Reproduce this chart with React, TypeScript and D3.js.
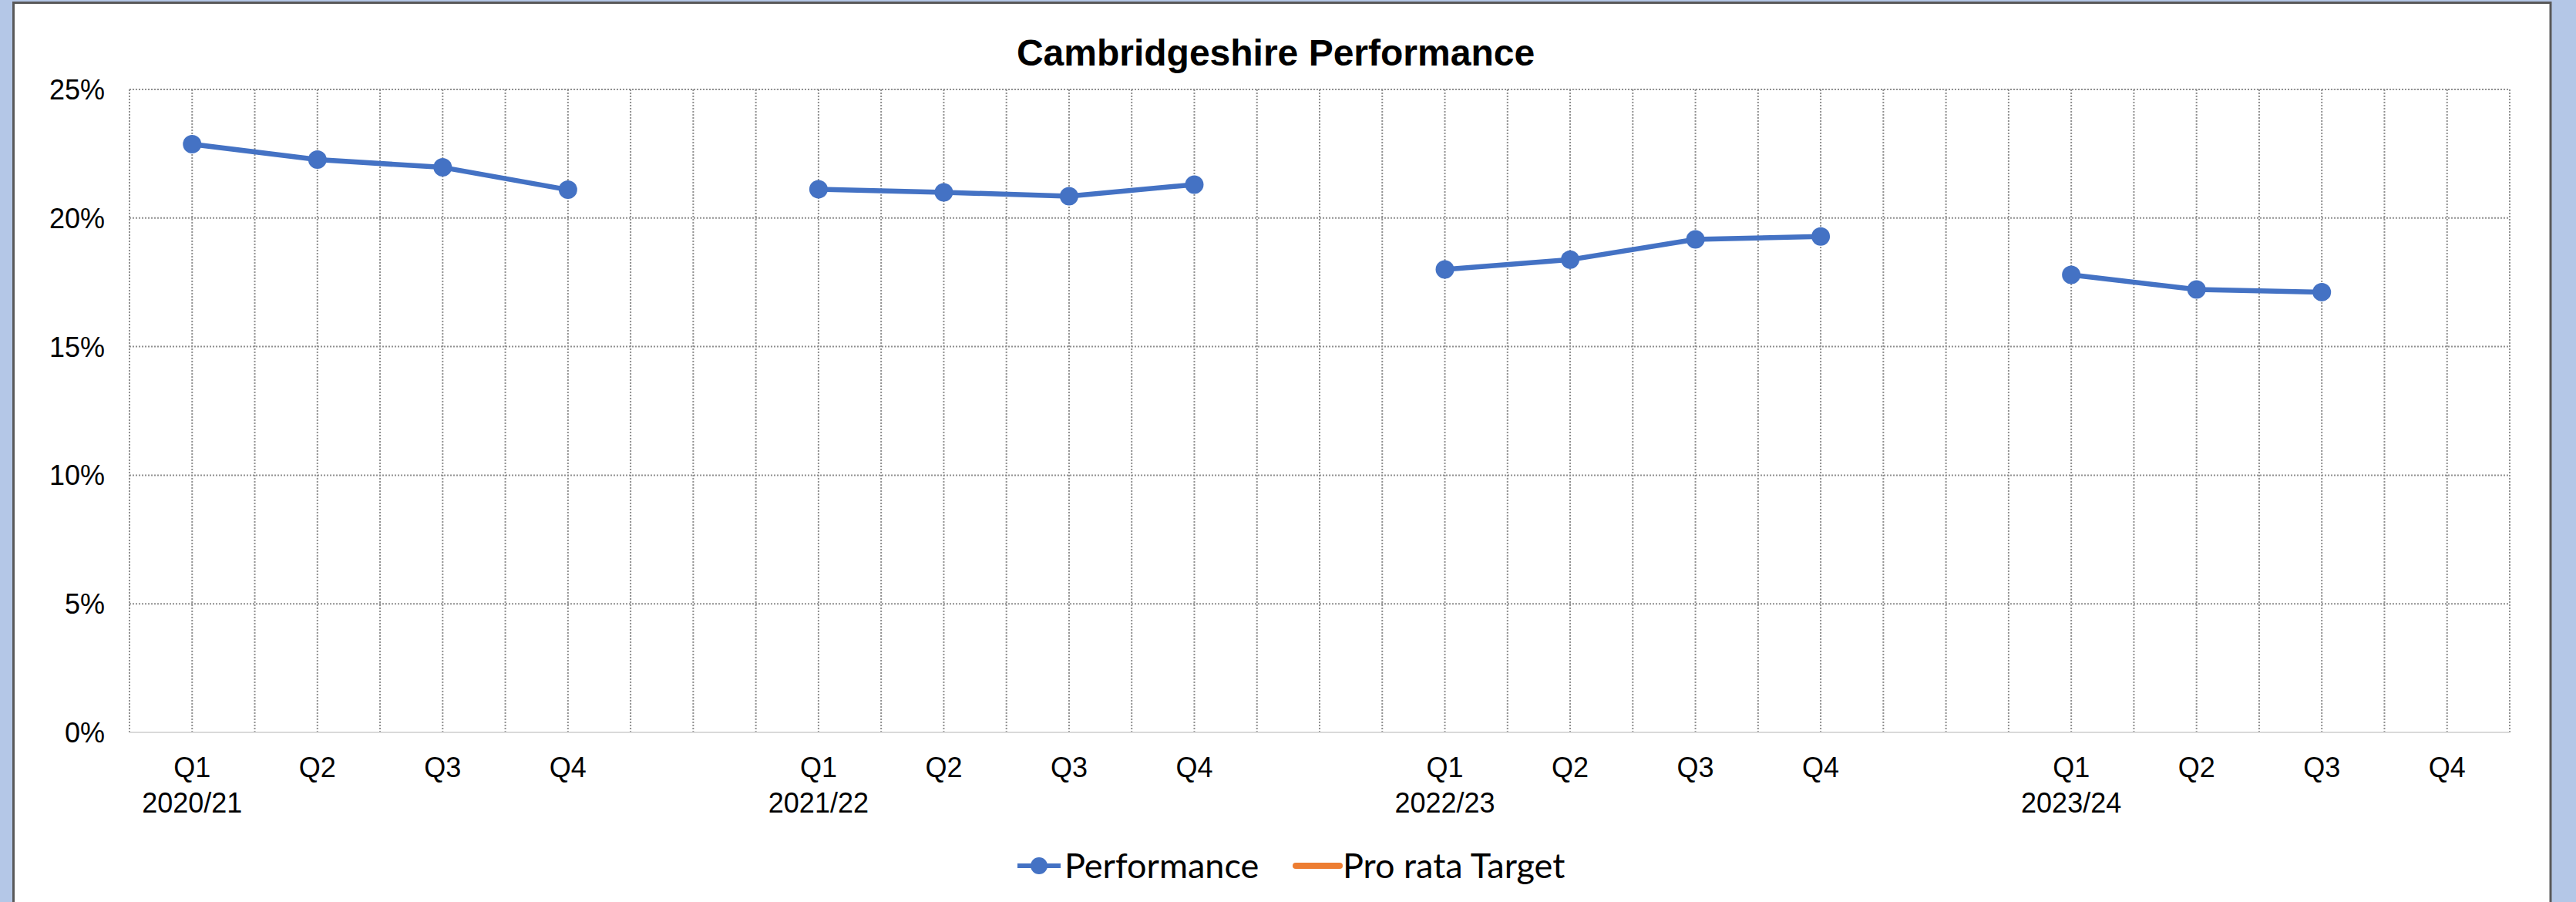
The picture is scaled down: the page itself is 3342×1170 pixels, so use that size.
import { useEffect, useRef } from "react";
import * as d3 from "d3";

const quarterLabels = [
  "Q1", "Q2", "Q3", "Q4", "",
  "Q1", "Q2", "Q3", "Q4", "",
  "Q1", "Q2", "Q3", "Q4", "",
  "Q1", "Q2", "Q3", "Q4",
];
const yearLabels = [
  "2020/21", "", "", "", "",
  "2021/22", "", "", "", "",
  "2022/23", "", "", "", "",
  "2023/24", "", "", "",
];
// percent values, null where there is no point
const performance: (number | null)[] = [
  22.87, 22.27, 21.97, 21.1, null,
  21.12, 21.0, 20.85, 21.3, null,
  18.0, 18.38, 19.17, 19.28, null,
  17.79, 17.22, 17.12, null,
];
const proRataTarget: (number | null)[] = quarterLabels.map(() => null);
const yTicks = [0, 5, 10, 15, 20, 25];

const WIDTH = 3342;
const HEIGHT = 1170;
const BLUE = "#4472C4";
const ORANGE = "#ED7D31";
const GRID = "#8f8f8f";

export default function App() {
  const svgRef = useRef<SVGSVGElement>(null);

  useEffect(() => {
    if (!svgRef.current) return;
    const svg = d3.select(svgRef.current);
    svg.selectAll("*").remove();

    const plot = { left: 168, right: 3256, top: 116, bottom: 950 };

    // page background + chart frame
    svg.append("rect").attr("width", WIDTH).attr("height", HEIGHT).attr("fill", "#b4c7e7");
    svg
      .append("rect")
      .attr("x", 17.5)
      .attr("y", 3.5)
      .attr("width", 3309 - 17.5)
      .attr("height", HEIGHT + 20)
      .attr("fill", "#ffffff")
      .attr("stroke", "#595959")
      .attr("stroke-width", 3);

    const x = d3
      .scaleBand<number>()
      .domain(d3.range(quarterLabels.length))
      .range([plot.left, plot.right])
      .padding(0);
    const bw = x.bandwidth();
    const cx = (i: number) => (x(i) || 0) + bw / 2;

    const y = d3.scaleLinear().domain([0, 25]).range([plot.bottom, plot.top]);

    const g = svg.append("g");

    // vertical gridlines: category edges and centres
    const vLines: number[] = [];
    quarterLabels.forEach((_d, i) => {
      vLines.push(x(i) || 0, cx(i));
    });
    vLines.push(plot.right);
    g.append("g")
      .selectAll("line")
      .data(vLines)
      .enter()
      .append("line")
      .attr("x1", (d) => d)
      .attr("x2", (d) => d)
      .attr("y1", plot.top)
      .attr("y2", plot.bottom)
      .attr("stroke", GRID)
      .attr("stroke-width", 2)
      .attr("stroke-dasharray", "2,2");

    // horizontal gridlines
    g.append("g")
      .selectAll("line")
      .data(yTicks.filter((t) => t > 0))
      .enter()
      .append("line")
      .attr("x1", plot.left)
      .attr("x2", plot.right)
      .attr("y1", (d) => y(d))
      .attr("y2", (d) => y(d))
      .attr("stroke", GRID)
      .attr("stroke-width", 2)
      .attr("stroke-dasharray", "2,2");

    // category axis line
    g.append("line")
      .attr("x1", plot.left)
      .attr("x2", plot.right)
      .attr("y1", y(0))
      .attr("y2", y(0))
      .attr("stroke", "#d9d9d9")
      .attr("stroke-width", 2);

    // y labels
    g.append("g")
      .selectAll("text")
      .data(yTicks)
      .enter()
      .append("text")
      .attr("x", 136)
      .attr("y", (d) => y(d))
      .attr("dy", "0.36em")
      .attr("text-anchor", "end")
      .style("font-family", "'Liberation Sans', Arial, sans-serif")
      .style("font-size", "36px")
      .style("fill", "#000")
      .text((d) => `${d}%`);

    // x labels
    const xl = g.append("g");
    quarterLabels.forEach((q, i) => {
      if (q)
        xl.append("text")
          .attr("x", cx(i))
          .attr("y", 1008)
          .attr("text-anchor", "middle")
          .style("font-family", "'Liberation Sans', Arial, sans-serif")
          .style("font-size", "36px")
          .text(q);
      if (yearLabels[i])
        xl.append("text")
          .attr("x", cx(i))
          .attr("y", 1054)
          .attr("text-anchor", "middle")
          .style("font-family", "'Liberation Sans', Arial, sans-serif")
          .style("font-size", "36px")
          .text(yearLabels[i]);
    });

    // series
    const line = d3
      .line<number | null>()
      .defined((d) => d != null)
      .x((_d, i) => cx(i))
      .y((d) => y(d as number));

    g.append("path")
      .datum(proRataTarget)
      .attr("d", line)
      .attr("fill", "none")
      .attr("stroke", ORANGE)
      .attr("stroke-width", 6);

    g.append("path")
      .datum(performance)
      .attr("d", line)
      .attr("fill", "none")
      .attr("stroke", BLUE)
      .attr("stroke-width", 6.5)
      .attr("stroke-linejoin", "round");

    g.append("g")
      .selectAll("circle")
      .data(performance.map((v, i) => ({ v, i })).filter((d) => d.v != null))
      .enter()
      .append("circle")
      .attr("cx", (d) => cx(d.i))
      .attr("cy", (d) => y(d.v as number))
      .attr("r", 12)
      .attr("fill", BLUE);

    // title
    svg
      .append("text")
      .attr("x", 1655)
      .attr("y", 85)
      .attr("text-anchor", "middle")
      .style("font-family", "'Liberation Sans', Arial, sans-serif")
      .style("font-size", "48px")
      .style("font-weight", "bold")
      .text("Cambridgeshire Performance");

    // legend
    const lg = svg.append("g").attr("transform", "translate(0,1123)");
    lg.append("line")
      .attr("x1", 1320)
      .attr("x2", 1376)
      .attr("stroke", BLUE)
      .attr("stroke-width", 6);
    lg.append("circle").attr("cx", 1348).attr("r", 11).attr("fill", BLUE);
    lg.append("text")
      .attr("x", 1381)
      .attr("dy", "0.35em")
      .style("font-family", "Lato, 'Noto Sans', sans-serif")
      .style("font-size", "45px")
      .text("Performance");
    lg.append("line")
      .attr("x1", 1681)
      .attr("x2", 1738)
      .attr("stroke", ORANGE)
      .attr("stroke-width", 8)
      .attr("stroke-linecap", "round");
    lg.append("text")
      .attr("x", 1742)
      .attr("dy", "0.35em")
      .style("font-family", "Lato, 'Noto Sans', sans-serif")
      .style("font-size", "45px")
      .text("Pro rata Target");
  }, []);

  return (
    <svg
      ref={svgRef}
      width={WIDTH}
      height={HEIGHT}
      viewBox={`0 0 ${WIDTH} ${HEIGHT}`}
      style={{ position: "absolute", left: 0, top: 0, display: "block" }}
    />
  );
}
